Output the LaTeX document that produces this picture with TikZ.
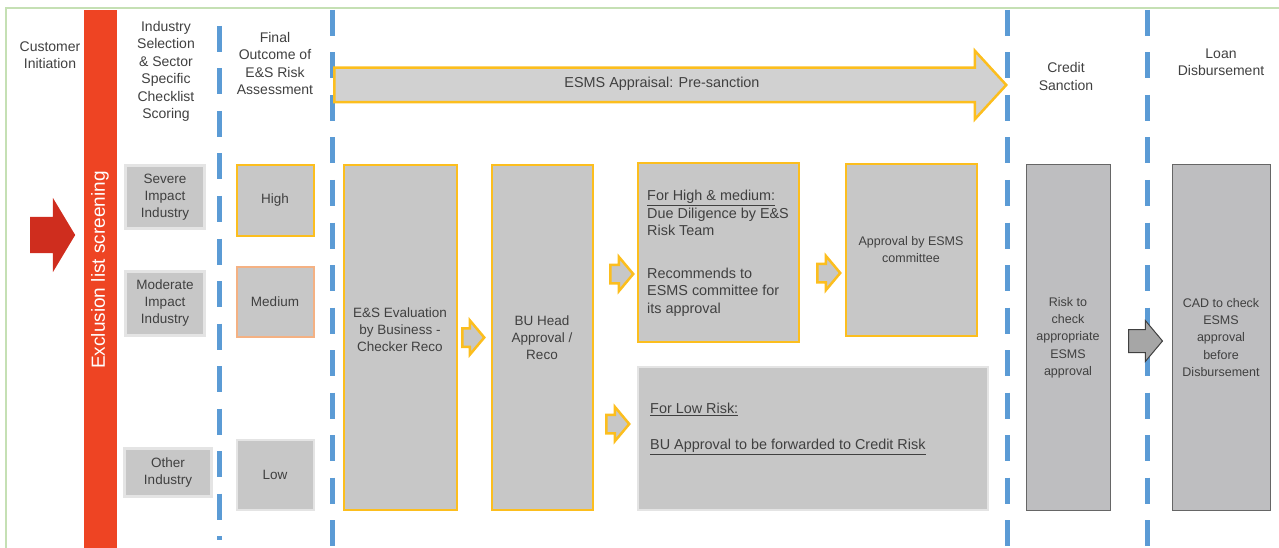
\documentclass[tikz,border=0pt]{standalone}
\usepackage{fontspec}
\setmainfont{Liberation Sans}
\usetikzlibrary{shapes.arrows,calc}

\definecolor{txtgray}{RGB}{64,64,64}
\definecolor{boxgray}{RGB}{199,199,199}
\definecolor{darkbox}{RGB}{190,190,192}
\definecolor{ywline}{RGB}{252,190,30}
\definecolor{medline}{RGB}{244,177,131}
\definecolor{litline}{RGB}{228,228,228}
\definecolor{laneblue}{RGB}{91,155,213}
\definecolor{framegreen}{RGB}{197,224,180}
\definecolor{barred}{RGB}{238,68,35}
\definecolor{arrred}{RGB}{207,45,30}

\begin{document}
\begin{tikzpicture}[x=1pt, y=-1pt,
    every node/.style={text=txtgray, inner sep=0pt, align=center},
    hdr/.style={font=\fontsize{14}{17.5}\selectfont},
    sbox/.style={rectangle, fill=boxgray, draw=litline, line width=3pt, font=\fontsize{13.5}{17}\selectfont},
    rbox/.style={rectangle, fill=boxgray, draw=ywline, line width=2pt, font=\fontsize{13.5}{17}\selectfont},
    gbox/.style={rectangle, fill=darkbox, draw=black!60, line width=1pt, font=\fontsize{12.5}{17.3}\selectfont},
    lane/.style={draw=laneblue, line width=5pt, dash pattern=on 26pt off 16.5pt},
    blockarr/.style={single arrow, anchor=tail, inner xsep=0pt},
    yarr/.style={blockarr, fill=boxgray, draw=ywline, line width=2.5pt, inner ysep=8pt,
        minimum height=22pt, single arrow head extend=8pt, single arrow tip angle=100}
]
\useasboundingbox (0,0) rectangle (1279,548);
\pgfmathsetmacro{\top}{10}
\pgfmathsetmacro{\bot}{548}

%% frame
\draw[framegreen, line width=2.5pt] (6,\bot) -- (6,8) -- (1279,8);

%% lanes
\draw[lane] (219,26) -- (219,540);
\draw[lane] (332,\top) -- (332,\bot);
\draw[lane] (1007,\top) -- (1007,\bot);
\draw[lane] (1147,\top) -- (1147,\bot);

%% column headers
\node[hdr] (hcust) at (50,55)     {Customer\\Initiation};
\node[hdr] (hind)  at (166,71.5)  {Industry\\Selection\\\& Sector\\Specific\\Checklist\\Scoring};
\node[hdr] (hfin)  at (275,63.5)  {Final\\Outcome of\\E\&S Risk\\Assessment};
\node[hdr] (hcred) at (1066,76.5) {Credit\\Sanction};
\node[hdr] (hloan) at (1221,62.5) {Loan\\Disbursement};

%% exclusion screening
\node[blockarr, fill=arrred, inner ysep=18pt, minimum height=45pt,
    single arrow head extend=19pt, single arrow tip angle=118] (redarr) at (30,235) {};
\node[fill=barred, minimum width=33pt, minimum height=538pt] (bar) at (100.5,279) {};
\node[rotate=90, text=white, font=\fontsize{19}{22}\selectfont] (bartxt) at (100,270) {Exclusion list screening};

%% industry and outcome boxes
\node[sbox, minimum width=79pt, minimum height=63pt] (sev) at (165,197)   {Severe\\Impact\\Industry};
\node[sbox, minimum width=79pt, minimum height=64pt] (mod) at (165,303.5) {Moderate\\Impact\\Industry};
\node[sbox, minimum width=87pt, minimum height=48pt] (oth) at (168,472.5) {Other\\Industry};
\node[rbox, minimum width=77pt, minimum height=70pt] (high) at (275,200.5) {High};
\node[rbox, draw=medline, minimum width=77pt, minimum height=70pt] (med) at (275,301.5) {Medium};
\node[rbox, draw=litline, minimum width=77pt, minimum height=70pt] (low) at (275,474.5) {Low};

%% pre-sanction appraisal
\node[blockarr, fill=black!18, draw=ywline, line width=2.5pt, inner ysep=16pt,
    minimum height=672pt, single arrow head extend=17pt,
    single arrow tip angle=95] (appr) at (333,85) {};
\node[font=\fontsize{14.4}{17}\selectfont] (apprtxt) at (662,84) {ESMS Appraisal: Pre-sanction};

\node[rbox, minimum width=113pt, minimum height=344pt] (eval) at (400,337.5) {};
\node[font=\fontsize{13.5}{17}\selectfont] (evaltxt) at ($(eval)+(0,-7.5)$) {E\&S Evaluation\\by Business -\\Checker Reco};
\node[rbox, minimum width=101pt, minimum height=344pt] (bu) at (542,337.5) {BU Head\\Approval /\\Reco};
\node[rbox, minimum width=161pt, minimum height=178pt] (hm) at (718,252.5) {};
\node[anchor=north west, align=left, font=\fontsize{14.4}{17.5}\selectfont] (hmtxt) at (647,190)
    {\underline{For High \& medium:}\\Due Diligence by E\&S\\Risk Team\\[25pt]Recommends to\\ESMS committee for\\its approval};
\node[rbox, minimum width=131pt, minimum height=171pt, font=\fontsize{12.5}{17}\selectfont] (esmsc) at (911,250) {Approval by ESMS\\committee};
\node[rbox, draw=litline, minimum width=350pt, minimum height=143pt] (lowr) at (812.5,438) {};
\node[anchor=west, align=left, font=\fontsize{14.4}{17.5}\selectfont] (lowtxt) at (650,429)
    {\underline{For Low Risk:}\\[18pt]\underline{BU Approval to be forwarded to Credit Risk}};

\node[yarr] (a1) at (461,337.5) {};
\node[yarr, minimum height=23pt] (a2) at (609,274) {};
\node[yarr, minimum height=23pt] (a3) at (605,424) {};
\node[yarr, minimum height=23pt] (a4) at (816,273) {};

%% sanction and disbursement
\node[gbox, minimum width=84pt, minimum height=345pt] (risk) at (1068,337.5) {Risk to\\check\\appropriate\\ESMS\\approval};
\node[gbox, minimum width=98pt, minimum height=345pt] (cad) at (1221,337.5) {CAD to check\\ESMS\\approval\\before\\Disbursement};
\node[blockarr, fill=black!35, draw=black!75, line width=1pt, inner ysep=11pt,
    minimum height=34pt, single arrow head extend=9pt,
    single arrow tip angle=100] (garr) at (1128,341) {};
\end{tikzpicture}
\end{document}
